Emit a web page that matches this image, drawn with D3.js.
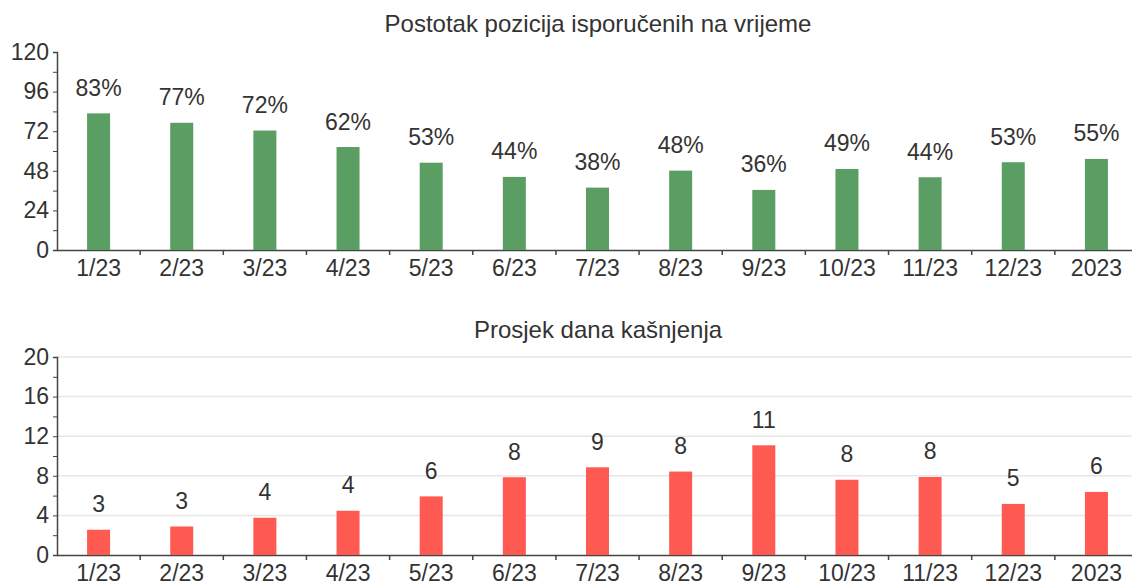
<!DOCTYPE html>
<html>
<head>
<meta charset="utf-8">
<script src="https://cdn.jsdelivr.net/npm/d3@7"></script>
<style>
  body { margin: 0; background: #fff; }
  svg { display: block; font-family: "Liberation Sans", Arial, sans-serif; }
  .axis path, .axis line { stroke: #444; }
  .axis text { fill: #333; font-size: 23px; font-family: "Liberation Sans", Arial, sans-serif; }
</style>
</head>
<body>
<div id="chart"></div>
<script>
var categories = ["1/23", "2/23", "3/23", "4/23", "5/23", "6/23", "7/23", "8/23", "9/23", "10/23", "11/23", "12/23", "2023"];
var onTime = [82.8, 77.1, 72.4, 62.4, 52.9, 44.3, 37.8, 48.1, 36.4, 49.1, 44.1, 53.2, 55.2];
var delayDays = [2.55, 2.88, 3.76, 4.47, 5.92, 7.86, 8.86, 8.43, 11.08, 7.6, 7.88, 5.16, 6.37];
var onTimeTicks = [0, 24, 48, 72, 96, 120];
var delayTicks = [0, 4, 8, 12, 16, 20];

var svgWidth = 1132, svgHeight = 583;

var svg = d3.select("#chart").append("svg")
  .attr("width", svgWidth).attr("height", svgHeight);

var x = d3.scaleBand()
  .domain(categories)
  .range([57, 1138])
  .padding(0);

function drawPanel(opts) {
  var y = d3.scaleLinear().domain([0, opts.max]).range([opts.bottom, opts.top]);
  var g = svg.append("g");

  if (opts.grid) {
    g.selectAll(".grid")
      .data(opts.ticks.slice(1))
      .enter().append("line")
      .attr("x1", x.range()[0]).attr("x2", x.range()[1])
      .attr("y1", d => y(d)).attr("y2", d => y(d))
      .attr("stroke", "#e6e6e6").attr("stroke-width", 1.5);
  }

  // y axis, minor ticks every half step
  var step = opts.ticks[1] - opts.ticks[0];
  var allTicks = d3.range(0, opts.max + 0.001, step / 2);
  g.append("g")
    .attr("class", "axis")
    .attr("transform", `translate(${x.range()[0]},0)`)
    .call(d3.axisLeft(y).tickValues(allTicks).tickSize(4).tickSizeOuter(4).tickPadding(4)
      .tickFormat(d => opts.ticks.indexOf(d) >= 0 ? d : ""))
    .call(a => a.select(".domain").attr("stroke-width", 1.5));

  // x axis
  var xAxis = g.append("g")
    .attr("class", "axis")
    .attr("transform", `translate(0,${opts.bottom})`)
    .call(d3.axisBottom(x).tickSize(0).tickSizeOuter(0).tickPadding(9));
  xAxis.select(".domain").attr("stroke-width", 1.5);
  xAxis.selectAll(".tick text").attr("dy", "0.75em");
  xAxis.selectAll(".sep")
    .data(categories.slice(1))
    .enter().append("line")
    .attr("x1", d => x(d)).attr("x2", d => x(d))
    .attr("y1", 0).attr("y2", 5)
    .attr("stroke", "#444").attr("stroke-width", 1.5);

  var bw = 23;
  g.selectAll(".bar")
    .data(opts.values)
    .enter().append("rect")
    .attr("x", (d, i) => x(categories[i]) + x.bandwidth() / 2 - bw / 2)
    .attr("y", d => y(d))
    .attr("width", bw)
    .attr("height", d => opts.bottom - y(d))
    .attr("fill", opts.color);

  g.selectAll(".val")
    .data(opts.values)
    .enter().append("text")
    .attr("x", (d, i) => x(categories[i]) + x.bandwidth() / 2)
    .attr("y", d => y(d) - 17.5)
    .attr("text-anchor", "middle")
    .attr("font-size", "23px")
    .attr("fill", "#333")
    .text(d => Math.round(d) + opts.suffix);

  svg.append("text")
    .attr("x", opts.titleX)
    .attr("y", opts.titleY)
    .attr("text-anchor", "middle")
    .attr("font-size", "24px")
    .attr("fill", "#333")
    .text(opts.title);
}

drawPanel({
  values: onTime, ticks: onTimeTicks, max: 120,
  top: 52, bottom: 250, grid: false,
  color: "#5a9e64", suffix: "%",
  title: "Postotak pozicija isporučenih na vrijeme", titleX: 598, titleY: 32
});

drawPanel({
  values: delayDays, ticks: delayTicks, max: 20,
  top: 357, bottom: 555, grid: true,
  color: "#ff5a52", suffix: "",
  title: "Prosjek dana kašnjenja", titleX: 598, titleY: 338
});
</script>
</body>
</html>
